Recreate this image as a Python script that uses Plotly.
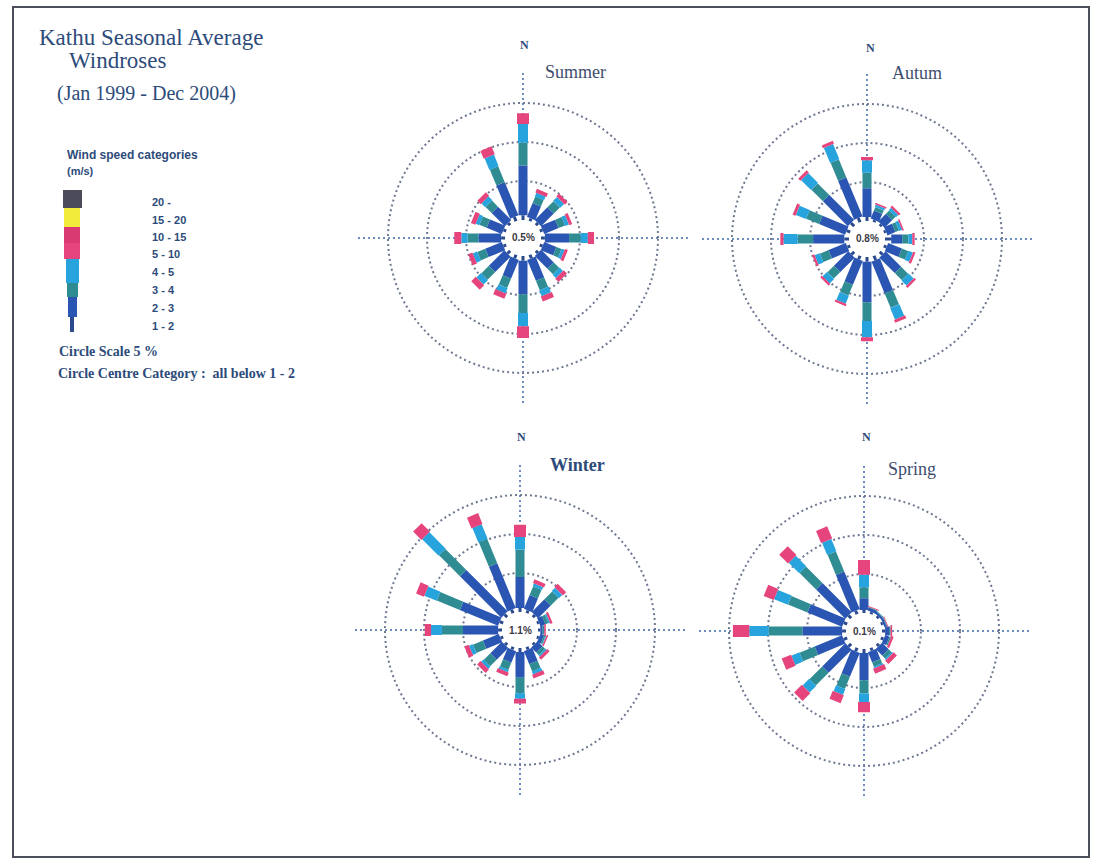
import plotly.graph_objects as go

# ---------------------------------------------------------------- data
DIRECTIONS = ["N", "NNE", "NE", "ENE", "E", "ESE", "SE", "SSE",
              "S", "SSW", "SW", "WSW", "W", "WNW", "NW", "NNW"]
DIR_DEG = [0, 22.5, 45, 67.5, 90, 112.5, 135, 157.5,
           180, 202.5, 225, 247.5, 270, 292.5, 315, 337.5]

SPEED_BINS = ["1 - 2", "2 - 3", "3 - 4", "4 - 5", "5 - 10", "10 - 15", "15 - 20", "20 -"]

# frequency (%) per direction, one row per speed bin (1-2, 2-3, 3-4, 4-5, 5-10)
SUMMER = [
    [0.6, 0.4, 0.4, 0.4, 0.5, 0.4, 0.4, 0.5, 0.6, 0.5, 0.5, 0.4, 0.5, 0.4, 0.4, 0.6],
    [6.4, 1.9, 2.3, 2.0, 3.1, 1.7, 2.3, 2.9, 4.3, 2.6, 2.8, 2.3, 2.9, 2.1, 2.4, 4.6],
    [2.9, 0.9, 1.1, 0.9, 1.5, 0.7, 1.0, 1.3, 2.4, 1.3, 1.4, 1.1, 1.4, 1.0, 1.1, 2.2],
    [2.4, 0.5, 0.7, 0.5, 0.9, 0.4, 0.6, 0.8, 1.7, 0.7, 0.8, 0.6, 0.8, 0.5, 0.7, 1.6],
    [1.4, 0.5, 0.5, 0.4, 0.8, 0.4, 0.6, 0.7, 1.5, 0.7, 0.8, 0.6, 0.9, 0.6, 0.6, 1.1],
]
AUTUMN = [
    [0.5, 0.3, 0.3, 0.3, 0.8, 0.4, 0.5, 0.6, 0.6, 0.5, 0.5, 0.4, 0.6, 0.5, 0.6, 0.6],
    [3.7, 1.1, 1.4, 1.1, 1.4, 1.9, 2.8, 4.4, 5.2, 3.3, 2.6, 2.4, 4.0, 3.6, 4.5, 5.4],
    [2.0, 0.5, 0.6, 0.5, 0.8, 0.9, 1.3, 2.0, 2.4, 1.5, 1.2, 1.2, 2.0, 1.8, 2.1, 2.5],
    [1.6, 0.3, 0.4, 0.4, 0.5, 0.6, 0.9, 1.6, 2.1, 1.1, 0.8, 0.7, 1.8, 1.4, 1.8, 2.1],
    [0.4, 0.2, 0.3, 0.2, 0.3, 0.3, 0.3, 0.4, 0.5, 0.3, 0.3, 0.3, 0.4, 0.4, 0.4, 0.4],
]
WINTER = [
    [0.5, 0.4, 0.4, 0.3, 0.3, 0.3, 0.3, 0.4, 0.5, 0.4, 0.4, 0.4, 0.5, 0.5, 0.5, 0.5],
    [4.0, 1.9, 2.3, 0.7, 0.3, 0.5, 0.9, 1.8, 3.3, 1.6, 2.1, 2.2, 4.5, 5.3, 7.5, 6.2],
    [3.5, 1.2, 1.4, 0.4, 0.2, 0.2, 0.5, 1.0, 2.0, 1.0, 1.2, 1.4, 2.7, 3.2, 3.8, 3.4],
    [1.6, 0.4, 0.6, 0.2, 0.0, 0.1, 0.2, 0.4, 0.7, 0.3, 0.4, 0.5, 1.4, 1.7, 3.0, 2.0],
    [1.6, 0.5, 0.6, 0.3, 0.2, 0.2, 0.4, 0.5, 0.6, 0.5, 0.6, 0.6, 0.8, 1.1, 1.5, 1.5],
]
SPRING = [
    [0.4, 0.3, 0.3, 0.3, 0.4, 0.4, 0.4, 0.4, 0.5, 0.5, 0.5, 0.5, 0.5, 0.5, 0.5, 0.5],
    [1.5, 0.4, 0.3, 0.3, 0.5, 0.6, 1.2, 1.4, 3.5, 3.3, 4.2, 3.8, 5.1, 4.8, 5.3, 5.2],
    [1.4, 0.1, 0.1, 0.1, 0.2, 0.2, 0.5, 0.6, 1.7, 1.7, 2.3, 2.1, 4.3, 2.7, 3.0, 2.8],
    [1.6, 0.0, 0.0, 0.0, 0.0, 0.0, 0.2, 0.2, 1.1, 0.8, 1.2, 1.1, 2.5, 1.9, 1.9, 1.7],
    [1.9, 0.1, 0.0, 0.1, 0.2, 0.3, 0.6, 0.7, 1.3, 1.1, 1.4, 1.3, 2.1, 1.4, 1.6, 1.7],
]

SEASONS = ["Summer", "Autum", "Winter", "Spring"]
SEASON_TABLES = [SUMMER, AUTUMN, WINTER, SPRING]
CALMS = [0.5, 0.8, 1.1, 0.1]          # % below 1-2 m/s, printed in the centre circle
RING_PCT = [5, 10, 15]                # circle scale 5 %

# ---------------------------------------------------------------- styling
W, H = 1093, 861
TEXT = "#2d4b7a"
BIN_COLORS = ["#2b4a8c", "#2a55b2", "#2f8c92", "#27a3de", "#e5457c",
              "#d93a72", "#f1ec3c", "#4b4b5a"]
BIN_WIDTHS = [3, 9, 9, 10, 12, 13, 14, 15]   # stroke width (px) of each speed bin

R_PX = 168            # radius of each rose frame in pixels
HOLE_PX = 18          # centre circle radius
PX_PER_PCT = 7.8
R_MAX = (R_PX - HOLE_PX) / PX_PER_PCT
CENTERS = [(523, 238), (867, 239), (520, 630), (864, 631)]
TITLE_POS = [(575, 72), (917, 73), (577, 465), (912, 469)]
TITLE_STYLE = [("#3e4d6e", False), ("#3e4d6e", False), (TEXT, True), ("#3e4d6e", False)]
NORTH_POS = [(524, 45), (870, 48), (521, 437), (866, 437)]


def px(x):
    return x / W


def py(y):
    return 1 - y / H


def label(x, y, text, size, family="Liberation Serif", color=TEXT, xanchor="center"):
    return dict(x=px(x), y=py(y), xref="paper", yref="paper", text=text,
                showarrow=False, xanchor=xanchor, yanchor="middle",
                font=dict(family=family, size=size, color=color))


fig = go.Figure()
layout_polars = {}
annotations = []

for k, (season, table) in enumerate(zip(SEASONS, SEASON_TABLES)):
    sub = "polar" if k == 0 else f"polar{k + 1}"
    cum = [0.0] * len(DIRECTIONS)
    for b, row in enumerate(table):
        r, th = [], []
        for d, val in enumerate(row):
            if val > 0:
                r += [cum[d], cum[d] + val, None]
                th += [DIR_DEG[d], DIR_DEG[d], None]
            cum[d] += val
        fig.add_trace(go.Scatterpolar(
            r=r, theta=th, mode="lines", subplot=sub,
            line=dict(color=BIN_COLORS[b], width=BIN_WIDTHS[b]),
            name=SPEED_BINS[b], showlegend=False, hoverinfo="skip"))

    cx, cy = CENTERS[k]
    layout_polars[sub] = dict(
        domain=dict(x=[px(cx - R_PX), px(cx + R_PX)], y=[py(cy + R_PX), py(cy - R_PX)]),
        hole=HOLE_PX / R_PX,
        bgcolor="rgba(0,0,0,0)",
        radialaxis=dict(range=[0, R_MAX], tickvals=[0] + RING_PCT, showticklabels=False,
                        ticks="", showline=False, gridcolor="#6e7893", griddash="2px,3px",
                        gridwidth=1.6),
        angularaxis=dict(rotation=90, direction="clockwise", tickvals=[0, 90, 180, 270],
                         showticklabels=False, ticks="", showline=False,
                         gridcolor="#6d8cc4", griddash="2px,3px", gridwidth=1.5),
    )
    annotations.append(label(cx, cy, f"<b>{CALMS[k]}%</b>", 10,
                             family="Liberation Sans", color="#3a3a44"))
    tx, ty = TITLE_POS[k]
    col, bold = TITLE_STYLE[k]
    annotations.append(label(tx, ty, f"<b>{season}</b>" if bold else season, 18, color=col))
    nx, ny = NORTH_POS[k]
    annotations.append(label(nx, ny, "<b>N</b>", 12))

# titles and legend text
annotations.append(label(151, 38, "Kathu Seasonal Average", 23))
annotations.append(label(117, 61, "Windroses", 23))
annotations.append(label(146, 94, "(Jan 1999 - Dec 2004)", 20))

annotations.append(label(65, 155, "<b>Wind speed categories</b>", 12,
                         family="Liberation Sans", xanchor="left"))
annotations.append(label(65, 171, "<b>(m/s)</b>", 11, family="Liberation Sans",
                         xanchor="left"))

label_rows = [326, 308, 290, 272, 254, 237, 220, 202]
for lab, y in zip(SPEED_BINS, label_rows):
    annotations.append(label(150, y, f"<b>{lab}</b>", 11, family="Liberation Sans",
                             xanchor="left"))

annotations.append(label(57, 351, "<b>Circle Scale 5 %</b>", 14, xanchor="left"))
annotations.append(label(56, 373, "<b>Circle Centre Category :  all below 1 - 2</b>", 14,
                         xanchor="left"))

# legend colour bar (1-2 at the bottom, 20- on top)
swatches = [  # (x0, x1, y0, y1) in pixels for each speed bin
    (70, 74, 317, 332),
    (68, 77, 297, 317),
    (67, 78, 283, 297),
    (66, 79, 259, 283),
    (64, 80, 243, 259),
    (64, 80, 227, 243),
    (64, 80, 208, 227),
    (63, 82, 190, 208),
]
shapes = []
for (x0, x1, y0, y1), col in zip(swatches, BIN_COLORS):
    shapes.append(dict(type="rect", xref="paper", yref="paper",
                       x0=px(x0), x1=px(x1), y0=py(y1), y1=py(y0),
                       fillcolor=col, line=dict(width=0)))

# page frame
shapes.append(dict(type="rect", xref="paper", yref="paper",
                   x0=px(13), x1=px(1089), y0=py(857), y1=py(7),
                   line=dict(color="#4a4f5a", width=2), fillcolor="rgba(0,0,0,0)"))

fig.update_layout(
    width=W, height=H,
    margin=dict(l=0, r=0, t=0, b=0),
    paper_bgcolor="white", plot_bgcolor="white",
    showlegend=False,
    annotations=annotations,
    shapes=shapes,
    **layout_polars,
)

fig.write_html("out.html")
